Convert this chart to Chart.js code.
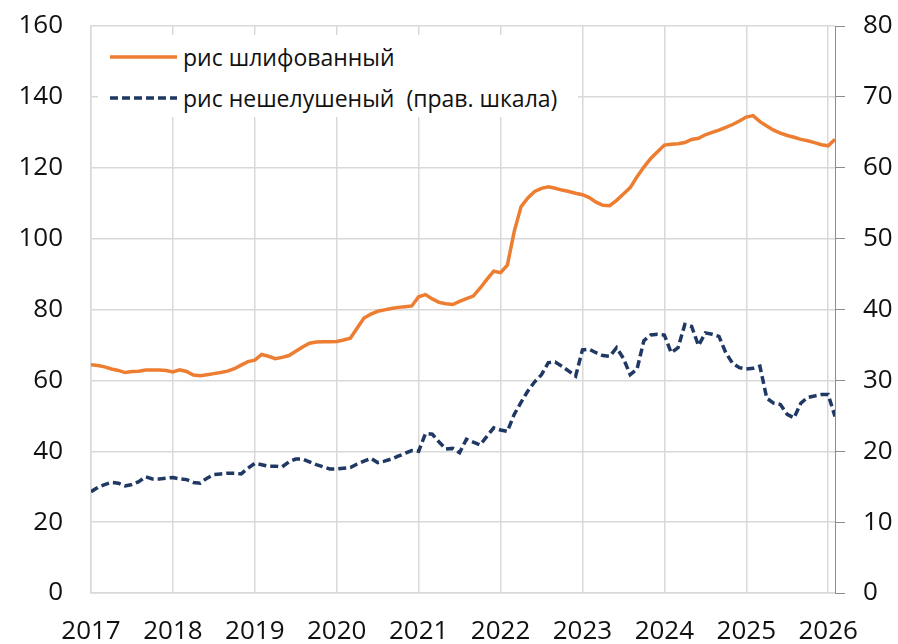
<!DOCTYPE html>
<html>
<head>
<meta charset="utf-8">
<script src="https://cdn.jsdelivr.net/npm/chart.js@4/dist/chart.umd.min.js"></script>
<style>
  html, body { margin: 0; padding: 0; background: #ffffff; }
  #wrap { position: relative; width: 898px; height: 644px; }
  #c { position: absolute; left: 0; top: 0; }
  #legend {
    position: absolute; left: 98px; top: 35px; width: 480px; height: 82px;
    background: #ffffff; font-family: 'Open Sans', sans-serif; font-size: 23px; color: #111;
  }
  .row { position: absolute; left: 0; height: 30px; display: flex; align-items: center; white-space: nowrap; }
  .row svg { margin-left: 12px; margin-right: 6px; }
</style>
</head>
<body>
<div id="wrap">
  <canvas id="c" width="898" height="644"></canvas>
  <div id="legend">
    <div class="row" style="top:7px;">
      <svg width="67" height="6"><line x1="0" y1="3" x2="67" y2="3" stroke="#ED7D31" stroke-width="3.5"/></svg>
      <span>рис шлифованный</span>
    </div>
    <div class="row" style="top:48px;">
      <svg width="67" height="6"><line x1="0" y1="3" x2="67" y2="3" stroke="#1F3864" stroke-width="3.5" stroke-dasharray="8 4"/></svg>
      <span>рис нешелушеный&nbsp; (прав. шкала)</span>
    </div>
  </div>
</div>
<script>
// Monthly data, January 2017 – February 2026
const startYear = 2017;
const seriesNames = ['рис шлифованный', 'рис нешелушеный (прав. шкала)'];
const riceMilled = [
  64.4, 64.2, 63.8, 63.2, 62.8, 62.2, 62.5, 62.6, 62.9, 62.9,
  62.9, 62.8, 62.4, 63.0, 62.5, 61.5, 61.3, 61.6, 61.9, 62.2,
  62.6, 63.3, 64.3, 65.3, 65.7, 67.3, 66.8, 66.1, 66.5, 67.0,
  68.2, 69.4, 70.5, 70.8, 70.9, 70.9, 71.0, 71.4, 71.9, 74.8,
  77.6, 78.7, 79.5, 79.9, 80.3, 80.6, 80.8, 81.0, 83.6, 84.2,
  83.0, 82.0, 81.6, 81.4, 82.3, 83.1, 83.8, 86.0, 88.5, 90.8,
  90.4, 92.5, 102.0, 109.0, 111.5, 113.3, 114.2, 114.6, 114.2, 113.7,
  113.3, 112.8, 112.4, 111.6, 110.3, 109.4, 109.3, 110.8, 112.6, 114.4,
  117.5, 120.2, 122.6, 124.5, 126.4, 126.6, 126.8, 127.1, 128.0, 128.3,
  129.3, 130.0, 130.6, 131.4, 132.2, 133.2, 134.3, 134.7, 133.0, 131.8,
  130.6, 129.8, 129.1, 128.6, 128.0, 127.6, 127.1, 126.5, 126.2, 128.0
];
const ricePaddy = [
  14.3, 14.9, 15.3, 15.6, 15.5, 15.1, 15.3, 15.7, 16.4, 16.1,
  16.1, 16.2, 16.3, 16.1, 16.0, 15.6, 15.5, 16.2, 16.7, 16.8,
  16.9, 16.9, 16.8, 17.6, 18.3, 18.1, 17.9, 17.9, 17.8, 18.5,
  18.9, 18.9, 18.5, 18.1, 17.8, 17.5, 17.5, 17.6, 17.7, 18.2,
  18.6, 19.0, 18.4, 18.6, 18.9, 19.3, 19.7, 20.1, 20.0, 22.5,
  22.4, 21.3, 20.3, 20.4, 19.8, 21.7, 21.3, 20.9, 22.1, 23.3,
  23.0, 22.8, 25.2, 26.9, 28.5, 29.8, 30.8, 32.5, 32.6, 32.0,
  31.3, 30.6, 34.3, 34.4, 33.9, 33.5, 33.4, 34.6, 33.1, 30.8,
  31.6, 35.6, 36.4, 36.5, 36.4, 33.9, 34.6, 37.9, 37.6, 34.9,
  36.7, 36.5, 36.2, 33.9, 32.4, 31.8, 31.6, 31.7, 32.0, 27.5,
  26.8, 26.6, 25.2, 24.7, 26.8, 27.6, 27.8, 28.0, 28.0, 24.9
];
const yearTicks = [2017, 2018, 2019, 2020, 2021, 2022, 2023, 2024, 2025, 2026];
const leftTicks = [0, 20, 40, 60, 80, 100, 120, 140, 160];
const rightTicks = [0, 10, 20, 30, 40, 50, 60, 70, 80];

// month positions (year + fraction)
const monthX = riceMilled.map((_, i) => startYear + Math.floor(i / 12) + (i % 12) / 12);

const FONT = { family: "'Open Sans', sans-serif", size: 26 };
const GRID = '#D9D9D9';
const TXT = '#111111';

function fitY(width) {
  return s => { s.width = width; s.paddingTop = 0; s.paddingBottom = 0; };
}

new Chart(document.getElementById('c'), {
  type: 'line',
  data: {
    datasets: [
      {
        label: seriesNames[0],
        data: riceMilled.map((v, i) => ({ x: monthX[i], y: v })),
        yAxisID: 'y',
        borderColor: '#ED7D31',
        borderWidth: 3.5,
        pointRadius: 0,
        tension: 0,
        fill: false
      },
      {
        label: seriesNames[1],
        data: ricePaddy.map((v, i) => ({ x: monthX[i], y: v })),
        yAxisID: 'y2',
        borderColor: '#1F3864',
        borderWidth: 3.5,
        borderDash: [8, 4],
        pointRadius: 0,
        tension: 0,
        fill: false
      }
    ]
  },
  options: {
    responsive: false,
    animation: false,
    layout: { padding: { top: 26, left: 0, right: 0, bottom: 0 } },
    plugins: { legend: { display: false }, tooltip: { enabled: false } },
    scales: {
      x: {
        type: 'linear',
        min: 2017,
        max: 2026 + 1 / 12,
        afterBuildTicks: s => { s.ticks = yearTicks.map(v => ({ value: v })); },
        afterFit: s => { s.height = 51; s.paddingLeft = 0; s.paddingRight = 0; },
        ticks: { font: FONT, color: TXT, padding: 23, maxRotation: 0, autoSkip: false,
                 callback: v => String(v) },
        grid: { color: GRID, lineWidth: 1.5, drawTicks: false },
        border: { color: GRID, width: 1.5 }
      },
      y: {
        position: 'left',
        min: 0, max: 160,
        afterBuildTicks: s => { s.ticks = leftTicks.map(v => ({ value: v })); },
        afterFit: fitY(91),
        ticks: { font: FONT, color: TXT, padding: 28 },
        grid: { color: GRID, lineWidth: 1.5, drawTicks: false },
        border: { color: GRID, width: 1.5 }
      },
      y2: {
        position: 'right',
        min: 0, max: 80,
        afterBuildTicks: s => { s.ticks = rightTicks.map(v => ({ value: v })); },
        afterFit: fitY(63),
        ticks: { font: FONT, color: TXT, padding: 18 },
        grid: { drawOnChartArea: false, color: '#8C8C8C', drawTicks: true, tickLength: 10, lineWidth: 1 },
        border: { color: '#8C8C8C', width: 1 }
      }
    }
  }
});
</script>
</body>
</html>
